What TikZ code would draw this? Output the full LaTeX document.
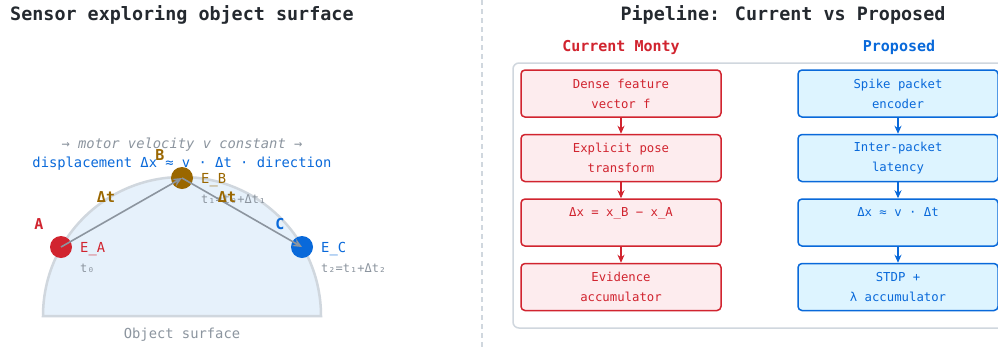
\documentclass[tikz,border=0pt]{standalone}
\usepackage{fontspec}
\setmainfont{DejaVu Sans Mono}
\setmonofont{DejaVu Sans Mono}
\usetikzlibrary{arrows.meta}
\definecolor{ink}{HTML}{24292F}
\definecolor{redc}{HTML}{D1242F}
\definecolor{redfill}{HTML}{FDECEE}
\definecolor{bluec}{HTML}{0969DA}
\definecolor{bluefill}{HTML}{DDF4FF}
\definecolor{brownc}{HTML}{9A6700}
\definecolor{graytxt}{HTML}{8C959F}
\definecolor{surffill}{HTML}{E6F1FB}
\definecolor{surfline}{HTML}{D0D7DE}
\definecolor{divider}{HTML}{D0D7DE}
\tikzset{
  titletext/.style={font=\fontsize{18.4}{22}\selectfont\bfseries, text=ink, inner sep=0},
  subtitle/.style={font=\fontsize{15}{18}\selectfont\bfseries, inner sep=0},
  lbl/.style={font=\fontsize{13.8}{16}\selectfont, inner sep=0},
  tlbl/.style={font=\fontsize{12}{14}\selectfont, text=graytxt, inner sep=0},
  ptlbl/.style={font=\fontsize{15}{18}\selectfont\bfseries, inner sep=0},
  sensor/.style={circle, minimum size=22, inner sep=0},
  motion/.style={draw=graytxt, line width=1.6, -{Stealth[length=9, width=8]}},
  stagebox/.style={rounded corners=4, line width=1.5, minimum width=200, minimum height=47,
    align=center, inner sep=0, font=\fontsize{12.3}{20}\selectfont},
  redbox/.style={stagebox, draw=redc, fill=redfill, text=redc},
  bluebox/.style={stagebox, draw=bluec, fill=bluefill, text=bluec},
  redflow/.style={draw=redc, line width=1.5, -{Stealth[length=8, width=7]}},
  blueflow/.style={draw=bluec, line width=1.5, -{Stealth[length=8, width=7]}},
}
\begin{document}
\begin{tikzpicture}[x=1pt, y=-1pt]
\clip (0,0) rectangle (998,349);
\useasboundingbox (0,0) rectangle (998,349);
\fill[white] (0,0) rectangle (998,349);

% panel divider
\draw[divider, line width=1.5, dash pattern=on 5 off 4] (482,0) -- (482,349);

% ---------- left panel: sensor on the object surface ----------
\node[titletext, anchor=west] (ltitle) at (10,15) {Sensor exploring object surface};

% half-disc object (y axis points down, so the upper half runs 180 -> 360)
\filldraw[fill=surffill, draw=surfline, line width=2.5]
  (43,316) arc[start angle=180, end angle=360, radius=139] -- cycle;
\node[lbl, text=graytxt] (surf) at (182,335) {Object surface};

\node[lbl, text=graytxt, font=\fontsize{13.8}{16}\selectfont\itshape] (motor) at (182,145)
  {→ motor velocity v constant →};
\node[lbl, text=bluec] (disp) at (182,164) {displacement Δx ≈ v · Δt · direction};

\node[sensor, fill=redc] (A) at (61,247) {};
\node[sensor, fill=brownc] (B) at (182,178) {};
\node[sensor, fill=bluec] (C) at (302,247) {};

\node[ptlbl, text=redc] (Alab) at (39,224) {A};
\node[ptlbl, text=brownc] (Blab) at (160,155) {B};
\node[ptlbl, text=bluec] (Clab) at (280,224) {C};

\node[lbl, text=redc, anchor=west] (EA) at (80,249) {E\_A};
\node[tlbl, anchor=west] (tA) at (80,268) {t₀};
\node[lbl, text=brownc, anchor=west] (EB) at (201,180) {E\_B};
\node[tlbl, anchor=west] (tB) at (201,199) {t₁=t₀+Δt₁};
\node[lbl, text=bluec, anchor=west] (EC) at (321,249) {E\_C};
\node[tlbl, anchor=west] (tC) at (321,268) {t₂=t₁+Δt₂};

\draw[motion] (A.center) -- (B.center);
\draw[motion] (B.center) -- (C.center);

\node[ptlbl, text=brownc] (dt1) at (106,197) {Δt};
\node[ptlbl, text=brownc] (dt2) at (227,197) {Δt};

% ---------- right panel: the two pipelines ----------
\node[titletext] (rtitle) at (783,15) {Pipeline: Current vs Proposed};
\node[subtitle, text=redc] (curhead) at (621,47) {Current Monty};
\node[subtitle, text=bluec] (prophead) at (899,47) {Proposed};

\draw[surfline, line width=1.5, rounded corners=6, fill=white] (513,63) rectangle (1020,328);

\node[redbox] (c1) at (621,93.5) {Dense feature\\vector f};
\node[redbox] (c2) at (621,158) {Explicit pose\\transform};
\node[redbox] (c3) at (621,222.5) {Δx = x\_B − x\_A\\\phantom{x}};
\node[redbox] (c4) at (621,287) {Evidence\\accumulator};

\node[bluebox] (p1) at (898,93.5) {Spike packet\\encoder};
\node[bluebox] (p2) at (898,158) {Inter-packet\\latency};
\node[bluebox] (p3) at (898,222.5) {Δx ≈ v · Δt\\\phantom{x}};
\node[bluebox] (p4) at (898,287) {STDP +\\λ accumulator};

\draw[redflow] (c1) -- (c2);
\draw[redflow] (c2) -- (c3);
\draw[redflow] (c3) -- (c4);
\draw[blueflow] (p1) -- (p2);
\draw[blueflow] (p2) -- (p3);
\draw[blueflow] (p3) -- (p4);
\end{tikzpicture}
\end{document}
